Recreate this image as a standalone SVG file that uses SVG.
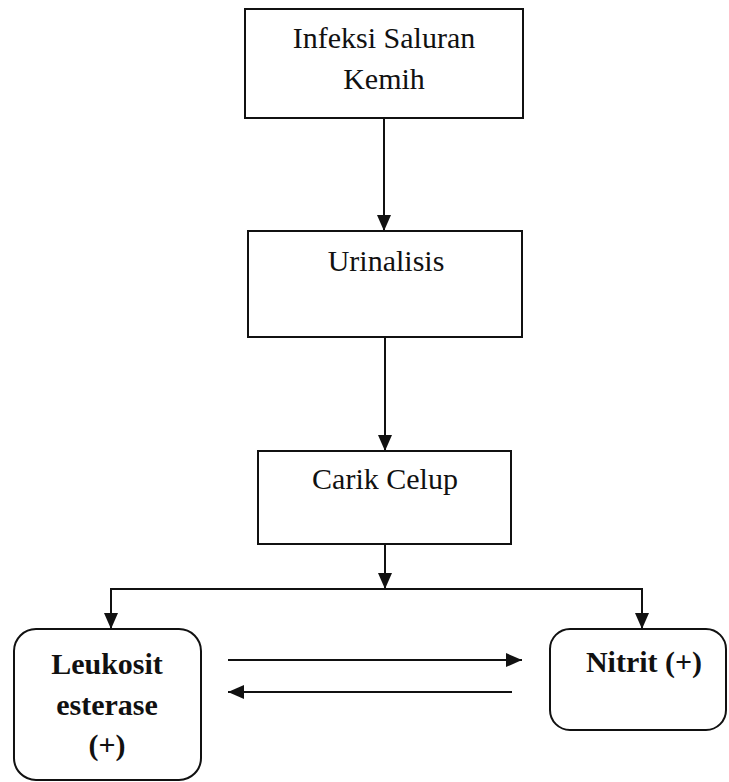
<svg xmlns="http://www.w3.org/2000/svg" width="729" height="782" viewBox="0 0 729 782">
<style>
.box{fill:#fff;stroke:#111;stroke-width:2}
.t{font-family:"Liberation Serif","Times New Roman",serif;font-size:30px;fill:#111;text-anchor:middle}
.b{font-weight:bold}
.c{stroke:#111;stroke-width:2;fill:none}
</style>
<defs>
<marker id="ah" viewBox="0 0 16 14" refX="16" refY="7" markerWidth="16" markerHeight="14" markerUnits="userSpaceOnUse" orient="auto">
<path d="M0,0 L16,7 L0,14 Z" fill="#111"/>
</marker>
</defs>
<rect width="729" height="782" fill="#fff"/>
<g id="connectors">
<line class="c" x1="384" y1="118" x2="384" y2="231" marker-end="url(#ah)"/>
<line class="c" x1="385" y1="337" x2="385" y2="451" marker-end="url(#ah)"/>
<line class="c" x1="385" y1="544" x2="385" y2="589" marker-end="url(#ah)"/>
<line class="c" x1="110" y1="589" x2="643" y2="589"/>
<line class="c" x1="111" y1="588" x2="111" y2="629" marker-end="url(#ah)"/>
<line class="c" x1="642" y1="588" x2="642" y2="629" marker-end="url(#ah)"/>
<line class="c" x1="228" y1="660" x2="522" y2="660" marker-end="url(#ah)"/>
<line class="c" x1="512" y1="692" x2="228" y2="692" marker-end="url(#ah)"/>
</g>
<g id="node-isk">
<rect class="box" x="245" y="9" width="278" height="109"/>
<text class="t" x="384" y="48">Infeksi Saluran</text>
<text class="t" x="384" y="89">Kemih</text>
</g>
<g id="node-urinalisis">
<rect class="box" x="248" y="231" width="274" height="106"/>
<text class="t" x="386" y="271">Urinalisis</text>
</g>
<g id="node-carik">
<rect class="box" x="258" y="451" width="253" height="93"/>
<text class="t" x="385" y="489">Carik Celup</text>
</g>
<g id="node-leukosit">
<rect class="box" x="14" y="629" width="187" height="151" rx="22" ry="22"/>
<text class="t b" x="107" y="674">Leukosit</text>
<text class="t b" x="107" y="715">esterase</text>
<text class="t b" x="107" y="755">(+)</text>
</g>
<g id="node-nitrit">
<rect class="box" x="550" y="629" width="176" height="101" rx="20" ry="20"/>
<text class="t b" x="644" y="672">Nitrit (+)</text>
</g>
</svg>
